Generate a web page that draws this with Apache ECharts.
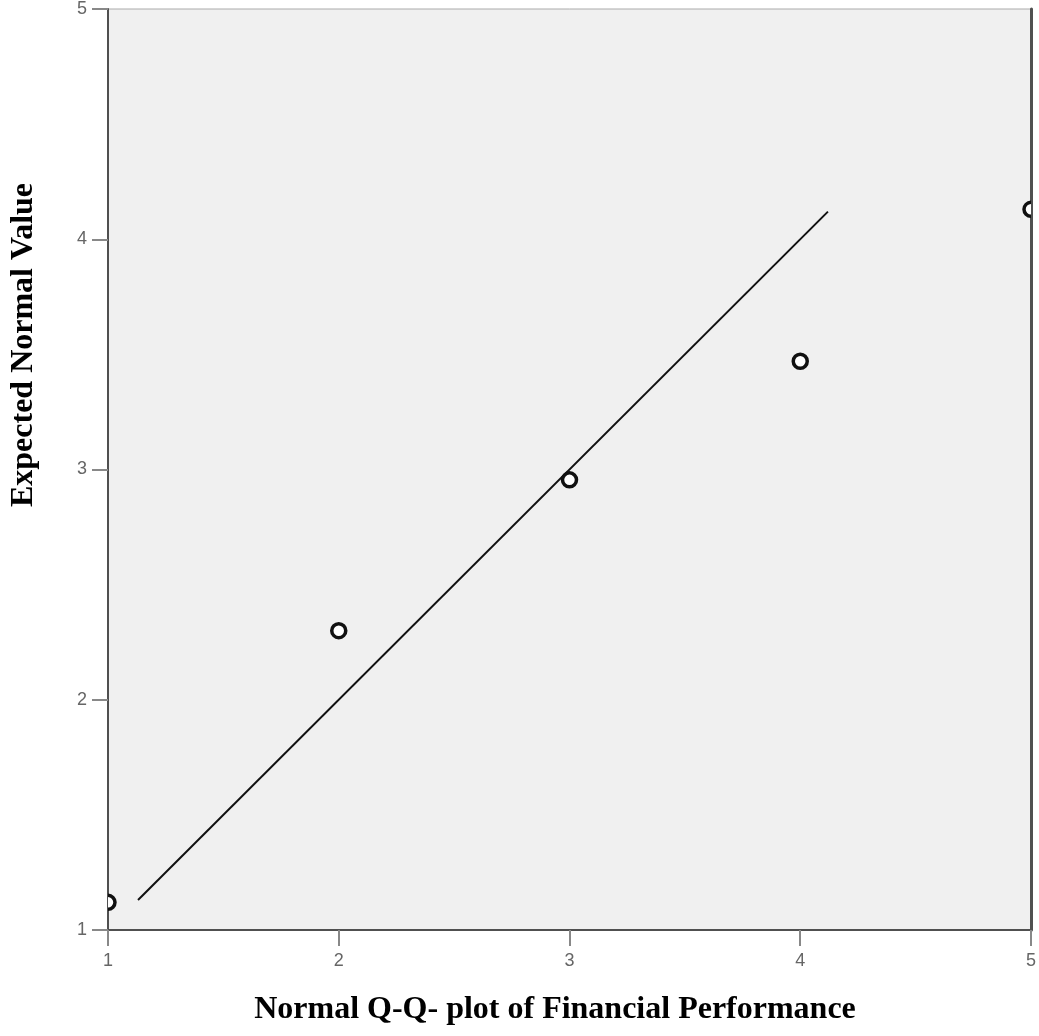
<!DOCTYPE html>
<html><head><meta charset="utf-8">
<script src="https://cdn.jsdelivr.net/npm/echarts@6/dist/echarts.min.js"></script>
<style>html,body{margin:0;padding:0;background:#fff}#c{width:1039px;height:1036px}</style>
</head><body><div id="c"></div>
<script>
// Observed values (x) and expected normal values (y)
const observed = [1, 2, 3, 4, 5];
const expected = [1.12, 2.30, 2.955, 3.47, 4.13];
// Reference line endpoints (y = x line)
const refLineX = [1.13, 4.12];
const refLineY = [1.13, 4.12];
const xTicks = [1, 2, 3, 4, 5];
const yTicks = [1, 2, 3, 4, 5];
const xTitle = 'Normal Q-Q- plot of Financial Performance';
const yTitle = 'Expected Normal Value';

const points = observed.map((v, i) => [v, expected[i]]);
const line = refLineX.map((v, i) => [v, refLineY[i]]);

const chart = echarts.init(document.getElementById('c'));
const tickLabel = {color: '#666', fontFamily: 'Liberation Sans, Arial, sans-serif', fontSize: 18};
chart.setOption({
  animation: false,
  backgroundColor: '#fff',
  grid: {left: 108, top: 7, right: 6, bottom: 106, show: true, backgroundColor: '#f0f0f0', borderColor: '#aaa', borderWidth: 1},
  xAxis: {
    type: 'value', min: xTicks[0], max: xTicks[xTicks.length - 1], interval: 1,
    axisLine: {show: true, onZero: false, lineStyle: {color: '#505050', width: 2}},
    axisTick: {show: true, length: 16, lineStyle: {color: '#888', width: 2}},
    axisLabel: Object.assign({margin: 22}, tickLabel),
    splitLine: {show: false}
  },
  yAxis: [{
    type: 'value', min: yTicks[0], max: yTicks[yTicks.length - 1], interval: 1,
    axisLine: {show: true, onZero: false, lineStyle: {color: '#505050', width: 2}},
    axisTick: {show: true, length: 16, lineStyle: {color: '#888', width: 2}},
    axisLabel: Object.assign({margin: 21}, tickLabel),
    splitLine: {show: false}
  }, {
    type: 'value', position: 'right', min: yTicks[0], max: yTicks[yTicks.length - 1], interval: 1,
    axisLine: {show: true, onZero: false, lineStyle: {color: '#505050', width: 3}},
    axisTick: {show: false}, axisLabel: {show: false}, splitLine: {show: false}
  }],
  graphic: [{
    type: 'text', x: 555, y: 1010,
    style: {text: xTitle, font: 'bold 32px "Liberation Serif", "Times New Roman", serif', fill: '#000', align: 'center', verticalAlign: 'middle'}
  }, {
    type: 'text', x: 24, y: 345, rotation: Math.PI / 2,
    style: {text: yTitle, font: 'bold 32px "Liberation Serif", "Times New Roman", serif', fill: '#000', align: 'center', verticalAlign: 'middle'}
  }],
  series: [{
    type: 'line', data: line, symbol: 'none', silent: true,
    lineStyle: {color: '#111', width: 2}, z: 3
  }, {
    type: 'custom', data: points, clip: true, z: 4,
    renderItem: function (params, api) {
      const p = api.coord([api.value(0), api.value(1)]);
      return {type: 'circle', shape: {cx: p[0], cy: p[1], r: 7},
        style: {fill: '#fff', stroke: '#111', lineWidth: 3.5}};
    }
  }]
});
</script></body></html>
